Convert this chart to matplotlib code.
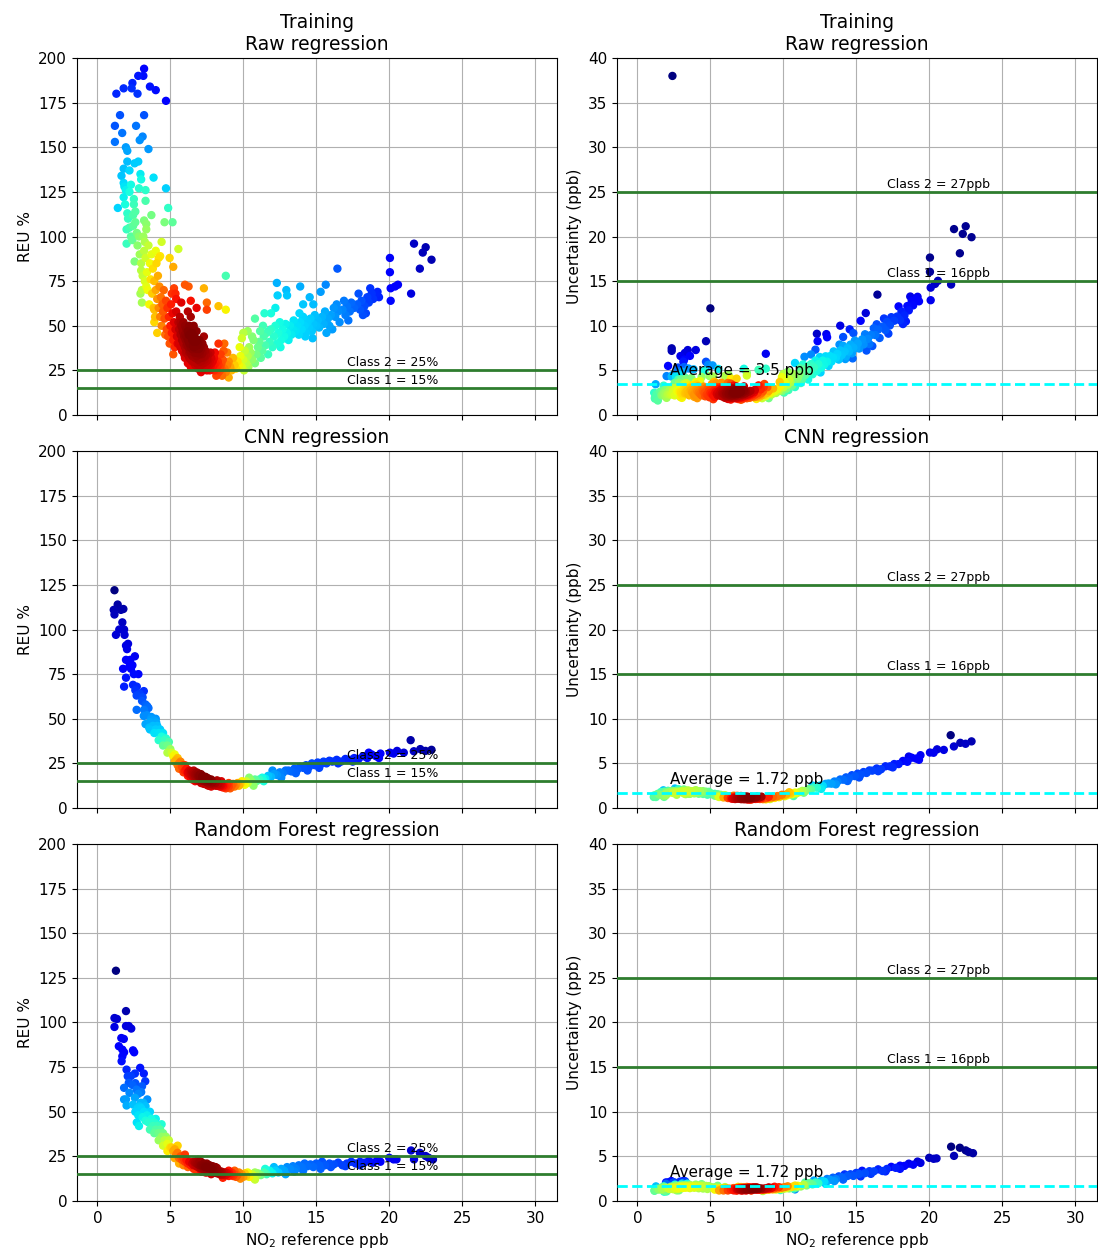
import numpy as np
import matplotlib.pyplot as plt

# (NO2 reference ppb, REU %); points above 200 % are
# off the left axes but show up in the uncertainty panel on the right
raw_points = [
    (1.3, 180), (1.8, 183), (2.35, 183), (2.4, 186), (2.75, 180), (2.8, 190), (3.2, 194), (3.15, 190),
    (3.6, 184), (4.0, 182), (4.7, 176), (1.55, 168), (1.2, 162), (1.2, 153), (1.7, 158), (2.65, 162),
    (3.2, 168), (1.95, 150), (2.05, 148), (2.9, 154), (3.1, 156), (3.5, 149), (2.05, 142), (2.55, 141),
    (2.8, 142), (2.2, 137), (1.8, 138), (1.65, 134), (2.95, 135), (3.0, 132), (3.85, 133), (1.8, 130),
    (2.3, 129), (1.95, 126), (2.85, 127), (3.3, 126), (4.7, 127), (2.5, 121), (1.8, 122), (3.3, 120),
    (1.4, 116), (2.05, 113), (4.85, 116), (2.6, 114), (2.0, 104), (2.45, 106), (2.4, 98), (2.0, 96),
    (3.2, 109), (3.7, 112), (3.35, 107), (4.6, 108), (5.15, 108), (2.55, 86), (3.25, 97), (4.4, 97),
    (5.55, 93), (5.2, 83), (4.95, 88), (4.3, 89), (3.0, 81), (3.35, 72), (3.05, 63), (3.9, 59),
    (8.8, 78), (7.3, 71), (6.0, 73), (6.25, 72), (7.5, 63), (6.8, 60), (5.75, 63), (6.4, 64),
    (8.3, 61), (8.8, 59), (7.5, 59), (5.25, 71), (5.35, 68), (5.4, 65),
    (10.8, 54), (11.9, 57), (12.2, 60), (12.3, 74), (12.35, 67), (12.95, 70), (13.0, 67), (13.9, 72),
    (14.55, 66), (15.65, 73), (15.3, 69), (16.45, 82), (14.8, 62), (14.1, 62), (13.85, 57),
    (17.9, 68), (18.7, 71), (18.4, 57), (18.8, 68), (19.2, 69), (20.05, 88), (20.05, 80), (20.1, 64),
    (20.1, 71), (20.4, 72), (20.6, 73), (21.5, 68), (21.7, 96), (22.1, 82), (22.3, 91), (22.5, 94), (22.9, 87),
    (2.4, 1583), (5.0, 239), (2.35, 318), (2.35, 306), (2.95, 224), (3.25, 214), (3.45, 211),
    (2.1, 262), (2.0, 218), (1.25, 276), (1.15, 217),
    (1.9, 118), (2.1, 110), (2.2, 105), (2.3, 100), (2.45, 112), (2.6, 108), (2.2, 125), (1.85, 128),
    (2.5, 118), (2.7, 102),
    (2.75, 95), (2.9, 90), (3.0, 85), (3.1, 78), (3.2, 92), (2.85, 100), (3.3, 88), (3.4, 80),
    (3.5, 95), (3.05, 70), (3.25, 75), (2.95, 68), (3.6, 85), (3.15, 100), (3.35, 104), (3.45, 70), (3.55, 62),
    (3.7, 90), (3.8, 82), (3.9, 75), (4.0, 70), (4.1, 65), (4.2, 60), (4.3, 55), (3.75, 68),
    (3.85, 60), (3.95, 55), (4.05, 85), (4.15, 78), (4.25, 72), (4.35, 66), (4.45, 62), (4.5, 58),
    (4.4, 50), (3.65, 76), (4.0, 92), (4.2, 88), (3.9, 52), (4.1, 46), (4.6, 54), (4.55, 70), (4.7, 64),
    (4.8, 60), (4.9, 55), (5.0, 50), (5.1, 46), (5.2, 42), (4.75, 48), (4.85, 44), (5.05, 62),
    (5.15, 57), (5.25, 52), (5.35, 48), (5.45, 44), (5.5, 40), (5.3, 38), (4.95, 40), (5.4, 58),
    (5.1, 68), (5.55, 52), (4.65, 45), (5.2, 34),
    (5.6, 48), (5.7, 45), (5.8, 42), (5.9, 40), (6.0, 38), (6.1, 36), (6.2, 34), (6.3, 32),
    (5.65, 55), (5.75, 50), (5.85, 47), (5.95, 44), (6.05, 42), (6.15, 40), (6.25, 38), (6.35, 36),
    (6.45, 34), (6.5, 30), (5.8, 36), (6.0, 32), (6.2, 29), (6.4, 27), (5.9, 52), (6.1, 48),
    (6.3, 45), (6.5, 42), (6.6, 50), (6.4, 55), (6.2, 58), (5.7, 38), (5.95, 34),
    (5.6, 40), (5.7, 52), (5.8, 49), (5.9, 46), (6.0, 45), (6.0, 50), (6.1, 44), (6.1, 39),
    (6.2, 42), (6.2, 47), (6.3, 40), (6.3, 35), (6.3, 50), (6.4, 38), (6.4, 44), (6.4, 31),
    (6.5, 37), (6.5, 46), (6.5, 33), (6.6, 41), (6.6, 35), (6.6, 30), (6.7, 39), (6.7, 43),
    (6.7, 32), (6.8, 37), (6.8, 29), (6.8, 42), (6.9, 35), (6.9, 40), (6.9, 28), (7.0, 34),
    (7.0, 38), (7.0, 27), (7.1, 32), (7.1, 37), (7.1, 30), (7.2, 35), (7.2, 29), (7.2, 25),
    (7.3, 33), (7.3, 29), (7.3, 38), (7.4, 27), (7.4, 33), (7.5, 31), (7.5, 28), (7.6, 26),
    (7.6, 31), (7.7, 30), (7.7, 25), (7.8, 29), (7.9, 27), (8.0, 25), (8.0, 32), (8.1, 29),
    (8.2, 27), (8.3, 28), (8.4, 25), (8.5, 26), (6.05, 35), (6.25, 45), (6.55, 39), (6.85, 35),
    (7.15, 40), (7.45, 34), (7.75, 35), (8.05, 35),
    (6.6, 38), (6.7, 35), (6.8, 33), (6.9, 31), (7.0, 30), (7.1, 28), (7.2, 27), (7.3, 26),
    (6.65, 44), (6.75, 41), (6.85, 39), (6.95, 37), (7.05, 36), (7.15, 34), (7.25, 32), (7.35, 31),
    (7.45, 30), (7.55, 29), (7.65, 28), (7.75, 27), (7.85, 26), (6.7, 28), (6.9, 26), (7.1, 24),
    (7.4, 36), (7.6, 34), (7.8, 32), (7.0, 42), (7.2, 40), (7.5, 25), (7.9, 30), (8.0, 28), (6.8, 47), (7.3, 44),
    (8.1, 26), (8.2, 25), (8.3, 24), (8.4, 27), (8.5, 29), (8.6, 31), (8.7, 26), (8.8, 24),
    (8.9, 28), (9.0, 30), (9.1, 27), (9.2, 25), (9.3, 32), (9.4, 28), (8.25, 30), (8.45, 34),
    (8.65, 36), (8.15, 22), (8.55, 22), (9.0, 21), (8.9, 35), (9.5, 26), (8.3, 40), (8.7, 40),
    (9.6, 30), (9.7, 28), (9.8, 33), (9.9, 27), (10.0, 31), (10.1, 36), (10.2, 29), (10.3, 33),
    (10.4, 38), (10.5, 35), (10.6, 31), (10.7, 42), (9.75, 38), (10.05, 25), (10.35, 27), (10.8, 29),
    (10.0, 46), (10.3, 47), (9.9, 43), (10.6, 44),
    (10.9, 34), (11.0, 38), (11.1, 41), (11.2, 32), (11.3, 36), (11.4, 44), (11.5, 39), (11.6, 46),
    (11.7, 34), (11.8, 41), (11.9, 48), (11.35, 50), (11.15, 47), (12.0, 38), (11.45, 57), (11.75, 47),
    (12.1, 44), (12.2, 50), (12.3, 40), (12.4, 46), (12.5, 52), (12.6, 42), (12.7, 48), (12.8, 44),
    (12.9, 51), (13.0, 46), (13.1, 42), (13.2, 50), (13.3, 45), (13.4, 48), (12.55, 38), (13.45, 53),
    (13.6, 47), (13.7, 50), (13.8, 45), (13.9, 52), (14.0, 48), (14.1, 55), (14.2, 50), (14.3, 46),
    (14.4, 52), (14.5, 49), (14.6, 54), (14.7, 47), (14.8, 51), (14.9, 56), (15.0, 50), (14.25, 44), (14.75, 43),
    (15.1, 53), (15.2, 49), (15.4, 55), (15.5, 51), (15.6, 58), (15.8, 54), (15.9, 50), (16.0, 56),
    (16.2, 60), (16.3, 55), (16.5, 58), (16.6, 52), (16.8, 59), (17.0, 56), (17.1, 61), (17.3, 58),
    (17.4, 63), (15.7, 46), (16.1, 48), (16.4, 62), (16.9, 64), (17.2, 53),
    (17.6, 60), (17.8, 62), (18.0, 59), (18.1, 64), (18.3, 61), (18.5, 66), (18.6, 63), (18.9, 65),
    (19.1, 68), (19.3, 66), (18.2, 56),
]

cnn_points = [
    (1.17, 122), (1.12, 111), (1.39, 114), (1.61, 111), (1.78, 111.5), (1.17, 108.4), (1.27, 97),
    (1.71, 104), (1.83, 100), (1.86, 97), (1.96, 91), (2.03, 89), (1.96, 83), (2.25, 83), (2.57, 85),
    (1.76, 78), (2.2, 79.5), (2.81, 75), (1.96, 73), (1.83, 68), (2.44, 69), (3.18, 65.5), (2.69, 63),
    (3.06, 60), (3.42, 57), (2.69, 55), (3.18, 51.6), (3.67, 49.7), (4.03, 47.9), (3.55, 45),
    (1.5, 100), (2.1, 92), (2.3, 78), (2.5, 75), (2.7, 68), (2.9, 64), (3.1, 62), (3.3, 58), (2.4, 80), (2.6, 66),
    (3.2, 55), (3.4, 52), (3.5, 56), (3.6, 48), (3.7, 51), (3.8, 46), (3.9, 49), (4.0, 44),
    (4.1, 46), (4.2, 42), (4.3, 44), (4.4, 40), (4.5, 42), (4.6, 38), (4.7, 39), (4.8, 35),
    (4.9, 37), (5.0, 33), (3.6, 44), (3.9, 42), (4.2, 38), (4.5, 35), (4.8, 31), (3.3, 47), (4.0, 50),
    (5.1, 31), (5.2, 29), (5.3, 30), (5.4, 27), (5.5, 28), (5.6, 25), (5.7, 26), (5.8, 23),
    (5.9, 24), (6.0, 21), (6.1, 22), (6.2, 20), (6.3, 21), (6.4, 19), (6.5, 20), (5.3, 26),
    (5.6, 22), (5.9, 20), (6.2, 18), (5.5, 24), (6.0, 24), (6.4, 17),
    (6.6, 18), (6.7, 19), (6.8, 17), (6.9, 18), (7.0, 16), (7.1, 17), (7.2, 15.5), (7.3, 16.5),
    (7.4, 15), (7.5, 16), (7.6, 14), (7.7, 15), (7.8, 13.5), (7.9, 14.5), (8.0, 13), (6.6, 16),
    (6.8, 20), (7.0, 18.5), (7.2, 14), (7.4, 17.5), (7.6, 12.5), (7.8, 16), (6.7, 15), (7.1, 19),
    (7.5, 13), (6.9, 15.5), (7.3, 13.5),
    (6.3, 19), (6.4, 20.5), (6.5, 18), (6.6, 19.5), (6.7, 17), (6.8, 18.5), (6.9, 16.5), (7.0, 17.5),
    (7.1, 15.5), (7.2, 17), (7.3, 15), (7.4, 16), (7.5, 14.5), (7.6, 15.5), (7.7, 13.5), (7.8, 14.5),
    (7.9, 13), (8.0, 14), (8.1, 12.5), (6.5, 16), (6.8, 15.5), (7.1, 14), (7.4, 13.5), (7.7, 12.5),
    (6.6, 21), (6.9, 19.5), (7.2, 18), (7.5, 17), (7.0, 15), (7.3, 17.5), (6.7, 18), (7.6, 16.5),
    (8.2, 13.5), (8.4, 13), (8.6, 12.5), (8.8, 12), (6.2, 19.5), (7.8, 12),
    (8.1, 14), (8.2, 12.5), (8.3, 13.5), (8.4, 12), (8.5, 13), (8.6, 11.5), (8.7, 12.5), (8.8, 11),
    (8.9, 13), (9.0, 12), (9.1, 11), (9.2, 12.5), (9.3, 13.5), (9.4, 12), (9.5, 13), (8.5, 15),
    (9.0, 14), (8.2, 15.5),
    (9.6, 14), (9.7, 12.5), (9.8, 13.5), (9.9, 15), (10.0, 14), (10.1, 13), (10.2, 15), (10.3, 14),
    (10.5, 15.5), (10.6, 14.5), (10.8, 16), (10.9, 15), (10.4, 17), (10.7, 12.5),
    (11.1, 16), (11.3, 17), (11.5, 16.5), (11.7, 18), (11.9, 17.5), (12.1, 19), (12.3, 18.5), (12.5, 20),
    (12.7, 19.5), (12.9, 21), (11.4, 15), (12.0, 21), (12.6, 17),
    (13.1, 21), (13.3, 20.5), (13.5, 22), (13.7, 21.5), (13.9, 23), (14.1, 22.5), (14.3, 24), (14.5, 23),
    (14.7, 25), (14.9, 24), (15.1, 25.5), (15.3, 24.5), (15.5, 26), (15.7, 25), (15.9, 26.5), (13.6, 19.5),
    (14.4, 21), (15.2, 22.5),
    (16.1, 26), (16.4, 27), (16.7, 26), (17.0, 27.5), (17.3, 27), (17.6, 28), (17.9, 27.5), (18.2, 29),
    (18.5, 28), (18.8, 30), (19.1, 29), (19.4, 30.5), (16.5, 25), (17.5, 26), (18.6, 31), (19.3, 28),
    (20.05, 31), (20.54, 32), (21.47, 38), (21.69, 31.8), (22.13, 33), (22.49, 32), (22.9, 32.6),
    (20.3, 30.5), (21.0, 31),
]

rf_points = [
    (1.27, 129), (1.17, 102.5), (1.34, 102), (1.17, 97.5), (1.96, 106.4), (1.96, 98), (2.32, 96.6),
    (2.15, 98), (1.47, 86.7), (1.64, 91.3), (1.81, 90.8), (1.71, 84.8), (1.83, 83.3), (2.44, 84.4),
    (2.52, 83.3), (1.66, 78.3), (1.71, 81.1), (2.0, 73.6), (2.08, 69.9), (2.15, 66.2), (2.57, 71.4),
    (2.93, 74.6), (3.18, 71.4), (3.28, 67.1), (3.06, 64.3), (2.69, 62.4), (2.2, 60.6), (1.83, 63.4),
    (1.96, 56.9), (1.83, 56.9), (2.0, 53.5), (2.57, 57.8), (2.98, 55), (3.42, 56.9), (3.3, 53.1),
    (2.3, 70), (2.4, 65), (2.6, 66), (2.8, 60), (3.0, 61), (2.45, 54), (2.75, 52),
    (2.6, 50), (2.8, 48), (3.0, 52), (3.1, 47), (3.2, 50), (3.3, 45), (3.4, 48), (3.5, 44),
    (2.7, 44), (2.9, 53), (3.6, 50), (3.15, 55), (2.85, 42),
    (3.7, 46), (3.8, 42), (3.9, 44), (4.0, 40), (4.1, 42), (4.2, 38), (4.3, 40), (4.4, 36),
    (4.5, 38), (4.6, 34), (4.7, 36), (4.8, 32), (4.9, 34), (5.0, 30), (3.9, 38), (4.2, 34),
    (4.5, 31), (4.8, 28), (3.6, 40), (4.0, 46), (4.4, 43),
    (5.1, 30), (5.2, 28), (5.3, 29), (5.4, 26), (5.5, 27), (5.6, 24), (5.7, 25), (5.8, 23),
    (5.9, 24), (6.0, 22), (6.1, 23), (6.2, 21), (6.3, 22), (6.4, 20), (5.3, 24), (5.6, 21),
    (5.9, 20), (6.2, 19), (5.5, 31), (6.0, 26),
    (6.5, 21), (6.6, 22), (6.7, 20), (6.8, 21), (6.9, 19), (7.0, 20), (7.1, 18.5), (7.2, 19.5),
    (7.3, 18), (7.4, 19), (7.5, 17.5), (7.6, 18.5), (7.7, 17), (7.8, 18), (7.9, 16.5), (8.0, 17.5),
    (8.1, 16), (8.2, 17), (8.3, 15.5), (8.4, 16.5), (6.6, 18), (6.9, 23), (7.2, 16.5), (7.5, 21),
    (7.8, 15.5), (8.1, 19), (6.8, 17), (7.1, 22), (7.4, 16), (7.7, 20),
    (6.7, 21.5), (6.8, 19.5), (6.9, 20.5), (7.0, 18.5), (7.1, 20), (7.2, 18), (7.3, 19.5), (7.4, 17.5),
    (7.5, 19), (7.6, 17), (7.7, 18.5), (7.8, 16.5), (7.9, 18), (8.0, 16), (8.1, 17.5), (8.2, 15.5),
    (8.3, 17), (8.4, 15), (8.5, 16.5), (8.6, 15.5), (8.7, 14.5), (8.8, 16), (7.0, 22), (7.3, 21),
    (7.6, 20), (7.9, 19.5), (8.2, 18.5), (7.2, 17), (7.5, 16), (7.8, 15), (8.0, 19), (8.5, 14.5),
    (9.0, 15.5), (9.2, 14.5), (6.6, 20), (7.1, 16.5),
    (8.6, 15), (8.7, 16), (8.8, 14.5), (8.9, 15.5), (9.0, 14), (9.1, 15), (9.2, 16), (9.3, 14),
    (9.4, 15), (9.5, 13.5), (9.6, 14.5), (9.7, 16), (9.8, 14), (9.9, 15), (10.0, 13.5), (10.1, 15.5),
    (10.2, 14), (10.3, 16), (10.4, 13.5), (8.6, 13), (9.0, 17), (9.4, 17), (9.8, 12.5),
    (10.6, 15), (10.7, 13), (10.8, 16), (10.9, 14), (11.0, 15.5), (11.2, 14.5), (11.4, 16), (11.6, 15),
    (11.8, 17), (12.0, 15.5), (12.2, 17), (12.4, 16), (10.8, 12), (11.5, 18), (12.1, 19),
    (12.6, 18), (12.8, 17), (13.0, 19), (13.2, 18), (13.4, 19.5), (13.6, 18), (13.8, 20), (14.0, 19),
    (14.2, 21), (14.4, 19.5), (14.6, 20.5), (14.8, 19), (15.0, 21), (15.2, 20), (15.4, 22), (12.9, 15),
    (13.5, 16.5), (14.1, 17), (15.3, 18),
    (15.6, 20), (15.9, 21), (16.2, 20.5), (16.5, 21.5), (16.8, 20), (17.1, 21), (17.4, 22), (17.7, 21),
    (18.0, 22), (18.3, 21.5), (18.6, 22.5), (18.9, 21.5), (19.2, 23), (19.4, 22), (16.0, 19), (17.0, 19.5),
    (18.0, 20),
    (20.0, 24.2), (20.3, 23.3), (20.5, 23.3), (21.5, 28.3), (21.7, 23.3), (22.1, 27), (22.5, 25.2),
    (22.7, 24.2), (23.0, 23.3),
]

titles = ["Training\nRaw regression", "CNN regression", "Random Forest regression"]
averages = [3.5, 1.72, 1.72]
avg_labels = ["Average = 3.5 ppb", "Average = 1.72 ppb", "Average = 1.72 ppb"]
reu_classes = [25, 15]
reu_labels = ["Class 2 = 25%", "Class 1 = 15%"]
unc_classes = [25, 15]
unc_labels = ["Class 2 = 27ppb", "Class 1 = 16ppb"]

GREEN = "#2e7d2e"
BW = 0.46  # kde bandwidth factor


def density(x, y):
    # gaussian kde evaluated at the points themselves
    data = np.vstack([x, y])
    inv = np.linalg.inv(np.cov(data) * BW ** 2)
    dx = x[:, None] - x[None, :]
    dy = y[:, None] - y[None, :]
    q = inv[0, 0] * dx ** 2 + 2 * inv[0, 1] * dx * dy + inv[1, 1] * dy ** 2
    return np.exp(-0.5 * q).sum(axis=1)


def dens_scatter(ax, x, y):
    z = density(x, y)
    idx = z.argsort()
    ax.scatter(x[idx], y[idx], c=z[idx], cmap="jet", s=25, zorder=2)


fig, axes = plt.subplots(3, 2, figsize=(10.98, 12.53), dpi=100, sharex=True)
fig.subplots_adjust(left=0.0701, right=0.9991, top=0.9537, bottom=0.0415, wspace=0.125, hspace=0.1008)

for row, pts in enumerate([raw_points, cnn_points, rf_points]):
    arr = np.array(pts, dtype=float)
    x, reu = arr[:, 0], arr[:, 1]
    unc = reu * x / 100.0

    # REU %
    ax = axes[row, 0]
    ax.grid(zorder=0)
    dens_scatter(ax, x, reu)
    for val, lab in zip(reu_classes, reu_labels):
        ax.axhline(val, color=GREEN, lw=2, zorder=3)
        ax.annotate(lab, (17.1, val), xytext=(0, 3), textcoords="offset points", fontsize=9, zorder=4)
    ax.set_ylim(0, 200)
    ax.set_yticks(np.arange(0, 201, 25))
    ax.set_ylabel("REU %", fontsize=11)
    ax.set_title(titles[row], fontsize=13.5)

    # absolute uncertainty
    ax = axes[row, 1]
    ax.grid(zorder=0)
    dens_scatter(ax, x, unc)
    for val, lab in zip(unc_classes, unc_labels):
        ax.axhline(val, color=GREEN, lw=2, zorder=3)
        ax.annotate(lab, (17.1, val), xytext=(0, 3), textcoords="offset points", fontsize=9, zorder=4)
    ax.axhline(averages[row], color="cyan", lw=2, ls="--", zorder=3)
    ax.annotate(avg_labels[row], (2.2, averages[row]), xytext=(0, 6), textcoords="offset points",
                fontsize=11, zorder=4)
    ax.set_ylim(0, 40)
    ax.set_yticks(np.arange(0, 41, 5))
    ax.set_ylabel("Uncertainty (ppb)", fontsize=11)
    ax.set_title(titles[row], fontsize=13.5)

for ax in axes.flat:
    ax.set_xlim(-1.4, 31.5)
    ax.set_xticks(np.arange(0, 31, 5))
    ax.tick_params(labelsize=11)

for ax in axes[2]:
    ax.set_xlabel("NO$_2$ reference ppb", fontsize=11)

fig.savefig("out.png", dpi=100)
